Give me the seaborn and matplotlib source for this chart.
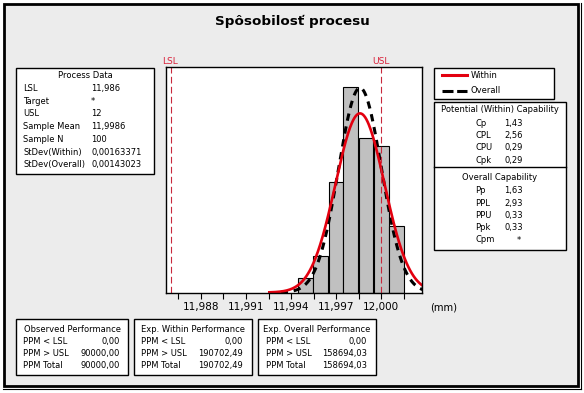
import numpy as np
import pandas as pd
import seaborn as sns
import matplotlib
matplotlib.use("Agg")
import matplotlib.pyplot as plt
from matplotlib.patches import Rectangle
from matplotlib.lines import Line2D
from matplotlib.ticker import FixedLocator, FixedFormatter

# histogram data (bin midpoints, counts)
bin_mids = [11.995, 11.996, 11.997, 11.998, 11.999, 12.000, 12.001]
bin_counts = [2, 5, 15, 28, 21, 20, 9]

lsl = 11.986
usl = 12.0
mean = 11.9986
sd_within = 0.00163371
sd_overall = 0.00143023
n = 100

tick_vals = [11.9865, 11.988, 11.9895, 11.991, 11.9925, 11.994, 11.9955,
             11.997, 11.9985, 12.000, 12.0015]
tick_labels = ["", "11,988", "", "11,991", "", "11,994", "", "11,997", "",
               "12,000", ""]

process_labels = ["LSL", "Target", "USL", "Sample Mean", "Sample N",
                  "StDev(Within)", "StDev(Overall)"]
process_values = ["11,986", "*", "12", "11,9986", "100", "0,00163371", "0,00143023"]
within_labels = ["Cp", "CPL", "CPU", "Cpk"]
within_values = ["1,43", "2,56", "0,29", "0,29"]
overall_labels = ["Pp", "PPL", "PPU", "Ppk", "Cpm"]
overall_values = ["1,63", "2,93", "0,33", "0,33", "*"]
perf_labels = ["PPM < LSL", "PPM > USL", "PPM Total"]
observed_perf = ["0,00", "90000,00", "90000,00"]
exp_within_perf = ["0,00", "190702,49", "190702,49"]
exp_overall_perf = ["0,00", "158694,03", "158694,03"]

W, H = 584, 393
fig = plt.figure(figsize=(W / 100, H / 100), dpi=100, facecolor="white")


def fx(x):
    return x / W


def fy(y):
    return 1 - y / H


def box(x0, y0, x1, y1, fc="white", lw=1.0, z=0):
    fig.patches.append(Rectangle((fx(x0), fy(y1)), (x1 - x0) / W, (y1 - y0) / H,
                                 transform=fig.transFigure, facecolor=fc,
                                 edgecolor="black", linewidth=lw, zorder=z))


def txt(x, y, s, ha="left", size=6.0, **kw):
    fig.text(fx(x), fy(y), s, ha=ha, va="center", fontsize=size, zorder=3, **kw)


# outer frame
box(3.5, 3.5, 578, 386, fc="#ECECEC", lw=2.0, z=-2)
fig.add_artist(Line2D([fx(3), fx(581)], [fy(389), fy(389)], color="black", lw=0.8))
fig.add_artist(Line2D([fx(581), fx(581)], [fy(3), fy(389)], color="black", lw=0.8))

txt(292, 21, "Spôsobilosť procesu", ha="center", size=9.7, fontweight="bold")

# histogram axes
ax = fig.add_axes([fx(166), fy(292.5), (421.7 - 166) / W, 225.2 / H])
ax.set_zorder(5)
hist_df = pd.DataFrame({"value": bin_mids, "count": bin_counts})
sns.histplot(data=hist_df, x="value", weights="count", binwidth=0.001,
             binrange=(bin_mids[0] - 0.0005, bin_mids[-1] + 0.0005),
             color="#C0C0C0", edgecolor="black", linewidth=0.8, alpha=1, ax=ax)

bw = 0.001
xw = np.linspace(mean - 3.7 * sd_within, mean + 3.7 * sd_within, 300)
yw = n * bw * np.exp(-0.5 * ((xw - mean) / sd_within) ** 2) / (sd_within * np.sqrt(2 * np.pi))
xo = np.linspace(mean - 3.7 * sd_overall, mean + 3.7 * sd_overall, 300)
yo = n * bw * np.exp(-0.5 * ((xo - mean) / sd_overall) ** 2) / (sd_overall * np.sqrt(2 * np.pi))
sns.lineplot(x=xo, y=yo, ax=ax, color="black", linewidth=2.2,
             linestyle=(0, (2.4, 1.9)))
sns.lineplot(x=xw, y=yw, ax=ax, color="#E3000F", linewidth=1.9)

for v in (lsl, usl):
    ax.axvline(v, color="#C8283C", linewidth=0.8, linestyle=(0, (6, 3)))

ax.set_xlim(12 - (381 - 166) / 15000, 12 + (421.7 - 381) / 15000)
ax.set_ylim(0, 30.7)
ax.set_facecolor("white")
for sp in ax.spines.values():
    sp.set_visible(True)
    sp.set_color("black")
    sp.set_linewidth(1.0)
ax.set_yticks([])
ax.xaxis.set_major_locator(FixedLocator(tick_vals))
ax.xaxis.set_major_formatter(FixedFormatter(tick_labels))
ax.tick_params(axis="x", length=4, width=0.8, labelsize=7.5, pad=3, color="black")
ax.set_xlabel("")
ax.set_ylabel("")

txt(170.5, 61.5, "LSL", ha="center", size=6.6, color="#D9213A")
txt(380.5, 61.5, "USL", ha="center", size=6.6, color="#D9213A")
txt(430, 307, "(mm)", size=7.2)

# process data box
box(16, 68, 154, 174)
txt(85, 75, "Process Data", ha="center")
for i, (lab, val) in enumerate(zip(process_labels, process_values)):
    y = 88.5 + i * 12.7
    txt(23, y, lab)
    txt(91, y, val)

# legend box
box(434, 67.5, 554, 98.5)
fig.add_artist(Line2D([fx(442), fx(467)], [fy(75), fy(75)], color="#E3000F", lw=2.2))
fig.add_artist(Line2D([fx(442), fx(467)], [fy(90.7), fy(90.7)], color="black", lw=2.2,
                      linestyle=(0, (3.6, 1.2))))
txt(470.5, 75, "Within")
txt(470.5, 90.7, "Overall")

# capability box
box(434, 102.3, 566, 250)
fig.add_artist(Line2D([fx(434), fx(566)], [fy(166.7), fy(166.7)], color="black", lw=1.0))
txt(500, 110, "Potential (Within) Capability", ha="center")
for i, (lab, val) in enumerate(zip(within_labels, within_values)):
    y = 123.3 + i * 12.3
    txt(475, y, lab)
    txt(523, y, val, ha="right")
txt(500, 177, "Overall Capability", ha="center")
for i, (lab, val) in enumerate(zip(overall_labels, overall_values)):
    y = 191 + i * 12.25
    txt(475, y, lab)
    if val == "*":
        txt(519, y, val, ha="center")
    else:
        txt(523, y, val, ha="right")

# performance boxes
perf_boxes = [
    (16, 128.3, 23.3, 120, "Observed Performance", observed_perf),
    (134, 251.7, 141, 243.3, "Exp. Within Performance", exp_within_perf),
    (258.3, 376, 266, 367.3, "Exp. Overall Performance", exp_overall_perf),
]
for x0, x1, lx, vx, title, vals in perf_boxes:
    box(x0, 318.5, x1, 375)
    txt((x0 + x1) / 2, 329.5, title, ha="center")
    for i, (lab, val) in enumerate(zip(perf_labels, vals)):
        y = 341.5 + i * 12
        txt(lx, y, lab)
        txt(vx, y, val, ha="right")

fig.savefig("out.png", dpi=100, facecolor=fig.get_facecolor())
